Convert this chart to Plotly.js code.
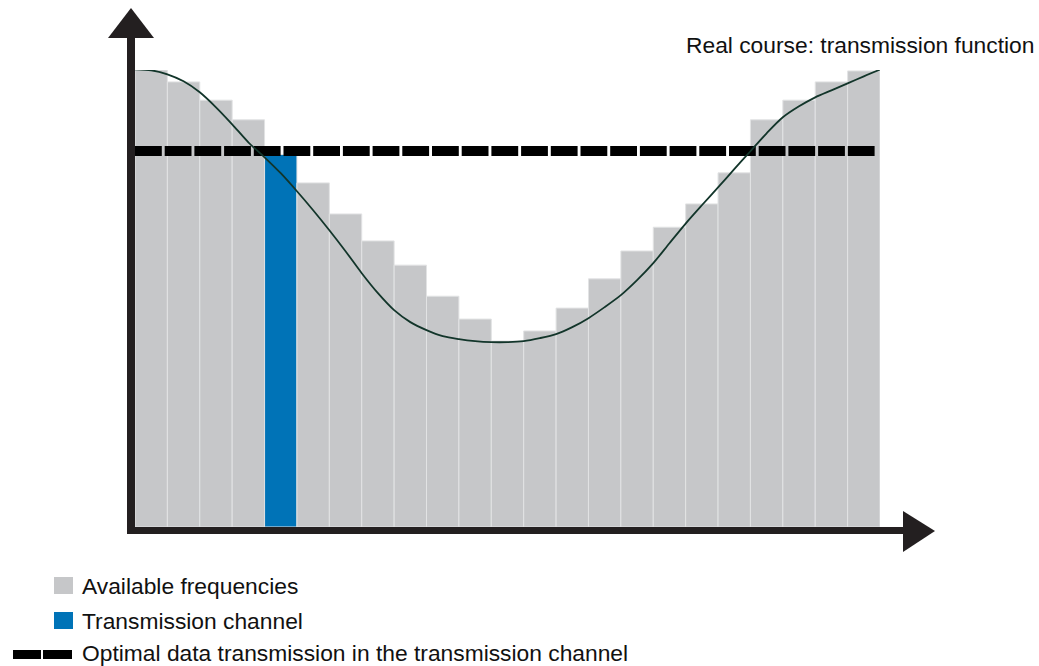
<!DOCTYPE html>
<html>
<head>
<meta charset="utf-8">
<script src="https://cdn.plot.ly/plotly-3.0.1.min.js"></script>
<style>
  html, body { margin: 0; padding: 0; background: #ffffff; }
  #chart { width: 1039px; height: 666px; }
</style>
</head>
<body>
<div id="chart"></div>
<script>
// ---- data ----
var channels = [1,2,3,4,5,6,7,8,9,10,11,12,13,14,15,16,17,18,19,20,21,22,23];
var availableLevel = [100, 97.4, 93.4, 89.1, 81.5, 75.3, 68.5, 62.6, 57.3, 50.5, 45.5, 40.7,
                      42.9, 47.9, 54.3, 60.4, 65.6, 70.7, 77.5, 89.1, 93.4, 97.4, 99.8];
var transmissionChannel = 5;
var optimalLevel = 82.3;
var optimalRange = [0.5, 23.35];
var curveX = [0.5, 1.0, 1.5, 2.0, 2.5, 3.0, 3.5, 4.0, 4.5, 5.0, 5.5, 6.0, 6.5, 7.0, 7.5, 8.0,
              8.5, 9.0, 9.5, 10.0, 10.5, 11.0, 11.5, 12.0, 12.5, 13.0, 13.5, 14.0, 14.5, 15.0,
              15.5, 16.0, 16.5, 17.0, 17.5, 18.0, 18.5, 19.0, 19.5, 20.0, 20.5, 21.0, 21.5,
              22.0, 22.5, 23.0, 23.6];
var curveY = [100.15, 99.93, 99.05, 97.52, 95.12, 91.84, 88.12, 84.18, 80.90, 77.41, 73.47,
              69.32, 64.94, 60.35, 55.54, 51.17, 47.45, 44.83, 43.08, 41.76, 41.11, 40.67,
              40.45, 40.45, 40.67, 41.33, 42.20, 43.73, 45.70, 48.11, 50.73, 54.01, 57.73,
              62.10, 66.40, 70.40, 74.30, 78.30, 82.22, 86.15, 89.65, 92.06, 94.02, 95.55,
              97.09, 98.62, 100.37];
var legendLabels = ["Available frequencies", "Transmission channel", "Optimal data transmission in the transmission channel"];
var curveLabel = "Real course: transmission function";

// ---- styles ----
var GRAY = "#c6c7c9", BLUE = "#0073b7", AXIS = "#231f20", CURVE = "#12352a";
var W = 1039, H = 666, L = 135, R = 159, T = 70, B = 139;
var pw = W - L - R, ph = H - T - B;
function px(x) { return (x - L) / pw; }
function py(y) { return (H - B - y) / ph; }

var barColors = channels.map(function (c) { return c === transmissionChannel ? BLUE : GRAY; });

var traces = [
  {
    type: "bar", x: channels, y: availableLevel, width: 1,
    marker: { color: barColors, line: { color: "#e2e3e4", width: 1 } },
    hoverinfo: "skip", showlegend: false
  },
  {
    type: "scatter", mode: "lines", x: optimalRange, y: [optimalLevel, optimalLevel],
    line: { color: "#000000", width: 10, dash: "26.8px,2.9px" },
    hoverinfo: "skip", showlegend: false
  },
  {
    type: "scatter", mode: "lines", x: curveX, y: curveY,
    line: { color: CURVE, width: 1.8, shape: "spline", smoothing: 0.8 },
    hoverinfo: "skip", showlegend: false, cliponaxis: false
  }
];

var font = { family: "Liberation Sans, Arial, sans-serif", size: 22.8, color: "#111111" };

var shapes = [
  // y axis
  { type: "line", xref: "paper", yref: "paper", x0: px(131), x1: px(131), y0: py(534), y1: py(36),
    line: { color: AXIS, width: 8 } },
  { type: "path", xref: "paper", yref: "paper",
    path: "M " + px(108) + " " + py(38) + " L " + px(131) + " " + py(8) + " L " + px(154) + " " + py(38) + " Z",
    fillcolor: AXIS, line: { width: 0 } },
  // x axis
  { type: "line", xref: "paper", yref: "paper", x0: px(127), x1: px(905), y0: py(530.5), y1: py(530.5),
    line: { color: AXIS, width: 7 } },
  { type: "path", xref: "paper", yref: "paper",
    path: "M " + px(903) + " " + py(511) + " L " + px(935) + " " + py(531) + " L " + px(903) + " " + py(552) + " Z",
    fillcolor: AXIS, line: { width: 0 } },
  // legend swatches
  { type: "rect", xref: "paper", yref: "paper", x0: px(54), x1: px(73), y0: py(577), y1: py(594),
    fillcolor: GRAY, line: { width: 0 } },
  { type: "rect", xref: "paper", yref: "paper", x0: px(54), x1: px(73), y0: py(612), y1: py(629),
    fillcolor: BLUE, line: { width: 0 } },
  { type: "rect", xref: "paper", yref: "paper", x0: px(13), x1: px(41), y0: py(650), y1: py(659),
    fillcolor: "#000000", line: { width: 0 } },
  { type: "rect", xref: "paper", yref: "paper", x0: px(43), x1: px(72), y0: py(650), y1: py(659),
    fillcolor: "#000000", line: { width: 0 } }
];

var annotations = [
  { xref: "paper", yref: "paper", x: px(684), y: py(45), xanchor: "left", yanchor: "middle",
    text: curveLabel, showarrow: false, font: font },
  { xref: "paper", yref: "paper", x: px(79.5), y: py(586), xanchor: "left", yanchor: "middle",
    text: legendLabels[0], showarrow: false, font: font },
  { xref: "paper", yref: "paper", x: px(79.5), y: py(621), xanchor: "left", yanchor: "middle",
    text: legendLabels[1], showarrow: false, font: font },
  { xref: "paper", yref: "paper", x: px(79.5), y: py(652.5), xanchor: "left", yanchor: "middle",
    text: legendLabels[2], showarrow: false, font: font }
];

var layout = {
  width: W, height: H,
  margin: { l: L, r: R, t: T, b: B, pad: 0 },
  paper_bgcolor: "#ffffff", plot_bgcolor: "#ffffff",
  bargap: 0,
  showlegend: false,
  xaxis: { range: [0.5, 23.5], visible: false, fixedrange: true },
  yaxis: { range: [0, 100], visible: false, fixedrange: true },
  shapes: shapes,
  annotations: annotations
};

Plotly.newPlot("chart", traces, layout, { displayModeBar: false, staticPlot: true });
</script>
</body>
</html>
